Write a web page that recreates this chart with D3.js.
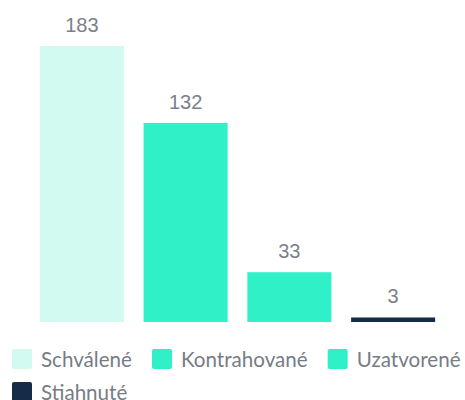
<!DOCTYPE html>
<html>
<head>
<meta charset="utf-8">
<script src="https://cdn.jsdelivr.net/npm/d3@7"></script>
<style>
  body { margin: 0; background: #fff; }
</style>
</head>
<body>
<div id="container"></div>
<script>
// data
let categories = ["Schválené", "Kontrahované", "Uzatvorené", "Stiahnuté"];
let values = [183, 132, 33, 3];
let colors = ["#d2faf1", "#2ff0c6", "#2ff0c6", "#152b47"];

let w = 465;
let h = 400;
let baseY = 322;
let topY = 46;

let viz = d3.select("#container")
  .append("svg")
    .attr("width", w)
    .attr("height", h)
;

// x scale: one band per category
let xScale = d3.scaleBand()
    .domain(categories)
    .range([30, 445])
    .paddingInner(0.19)
    .paddingOuter(0.095)
;

// y scale: tallest bar reaches topY
let yScale = d3.scaleLinear()
    .domain([0, d3.max(values)])
    .range([baseY, topY])
;

let data = categories.map(function(c, i){
  return {name: c, value: values[i], color: colors[i]};
});

let graphGroup = viz.append("g").classed("graphGroup", true);

graphGroup.selectAll(".bar").data(data).enter()
  .append("rect")
    .classed("bar", true)
    .attr("x", d => xScale(d.name))
    .attr("width", xScale.bandwidth())
    .attr("y", d => yScale(d.value))
    .attr("height", d => baseY - yScale(d.value))
    .attr("fill", d => d.color)
;

// value labels above the bars
graphGroup.selectAll(".valueLabel").data(data).enter()
  .append("text")
    .classed("valueLabel", true)
    .attr("x", d => xScale(d.name) + xScale.bandwidth()/2)
    .attr("y", d => yScale(d.value) - 14)
    .attr("text-anchor", "middle")
    .attr("font-family", "Liberation Sans, Arial, sans-serif")
    .attr("font-size", 20)
    .attr("fill", "#7b8089")
    .text(d => d.value)
;

// legend, wraps to a new row when it runs out of room
let legendGroup = viz.append("g").classed("legend", true);
let lx = 12;
let ly = 349;
let rowH = 33;
let maxX = w;

data.forEach(function(d){
  let item = legendGroup.append("g");
  item.append("rect")
    .attr("width", 20)
    .attr("height", 20)
    .attr("rx", 2)
    .attr("fill", d.color);
  let t = item.append("text")
    .attr("x", 29)
    .attr("y", 18)
    .attr("font-family", "Lato, sans-serif")
    .attr("font-size", 20.6)
    .attr("fill", "#777c85")
    .text(d.name);
  let itemW = 29 + t.node().getComputedTextLength();
  if (lx + itemW > maxX && lx > 12) {
    lx = 12;
    ly += rowH;
  }
  item.attr("transform", "translate(" + lx + "," + ly + ")");
  lx += itemW + 20;
});
</script>
</body>
</html>
